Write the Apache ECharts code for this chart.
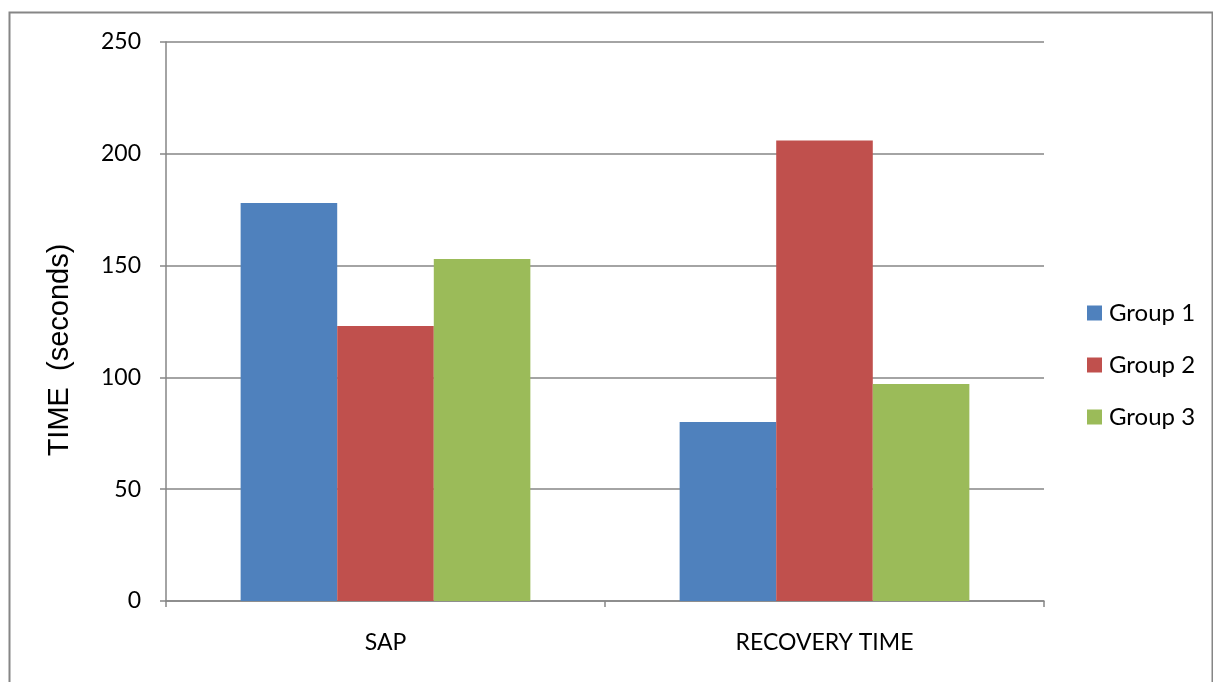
<!DOCTYPE html>
<html>
<head>
<meta charset="utf-8">
<script src="https://cdn.jsdelivr.net/npm/echarts@6/dist/echarts.min.js"></script>
<style>
  html, body { margin: 0; padding: 0; background: #fff; }
  #chart { width: 1213px; height: 682px; }
</style>
</head>
<body>
<div id="chart"></div>
<script>
// Measures shown along the category axis
const categories = ['SAP', 'RECOVERY TIME'];

// Time in seconds for each group
const group1 = [178, 80];
const group2 = [123, 206];
const group3 = [153, 97];

const seriesNames = ['Group 1', 'Group 2', 'Group 3'];
const seriesColors = ['#4F81BD', '#C0504D', '#9BBB59'];
const seriesValues = [group1, group2, group3];

const yTicks = { min: 0, max: 250, interval: 50 };
const yTitle = 'TIME  (seconds)';

const labelFont = 'Lato, "Open Sans", sans-serif';
const gray = '#868686';

const chart = echarts.init(document.getElementById('chart'));

chart.setOption({
  backgroundColor: '#fff',
  animation: false,
  graphic: [
    {
      // outer frame of the chart area
      type: 'rect',
      shape: { x: 9.5, y: 12.5, width: 1203, height: 700 },
      style: { fill: 'none', stroke: gray, lineWidth: 2 },
      silent: true
    },
    {
      // vertical axis title
      type: 'text',
      x: 60,
      y: 350,
      rotation: Math.PI / 2,
      style: {
        text: yTitle,
        fontFamily: '"Liberation Sans", Arial, sans-serif',
        fontSize: 29,
        fill: '#000',
        align: 'center',
        verticalAlign: 'middle'
      },
      silent: true
    }
  ],
  grid: { left: 166, right: 169, top: 42, bottom: 81 },
  legend: {
    orient: 'vertical',
    left: 1082,
    top: 296,
    itemWidth: 15,
    itemHeight: 15,
    itemGap: 28,
    icon: 'rect',
    textStyle: { fontFamily: labelFont, fontSize: 24, color: '#000', padding: [0, 0, 0, 2] },
    data: seriesNames
  },
  xAxis: {
    type: 'category',
    data: categories,
    axisLine: { lineStyle: { color: gray, width: 1.5 } },
    axisTick: { show: true, length: 6, lineStyle: { color: gray, width: 1.5 } },
    axisLabel: { fontFamily: labelFont, fontSize: 23, color: '#000', margin: 30 },
    splitLine: { show: false }
  },
  yAxis: {
    type: 'value',
    min: yTicks.min,
    max: yTicks.max,
    interval: yTicks.interval,
    axisLine: { show: true, lineStyle: { color: gray, width: 1.5 } },
    axisTick: { show: true, length: 6, lineStyle: { color: gray, width: 1.5 } },
    axisLabel: { fontFamily: labelFont, fontSize: 23, color: '#000', margin: 25 },
    splitLine: { show: true, lineStyle: { color: gray, width: 1.5 } }
  },
  series: seriesNames.map((name, i) => ({
    name: name,
    type: 'bar',
    data: seriesValues[i],
    barGap: '0%',
    barCategoryGap: '34%',
    itemStyle: { color: seriesColors[i] }
  }))
});
</script>
</body>
</html>
